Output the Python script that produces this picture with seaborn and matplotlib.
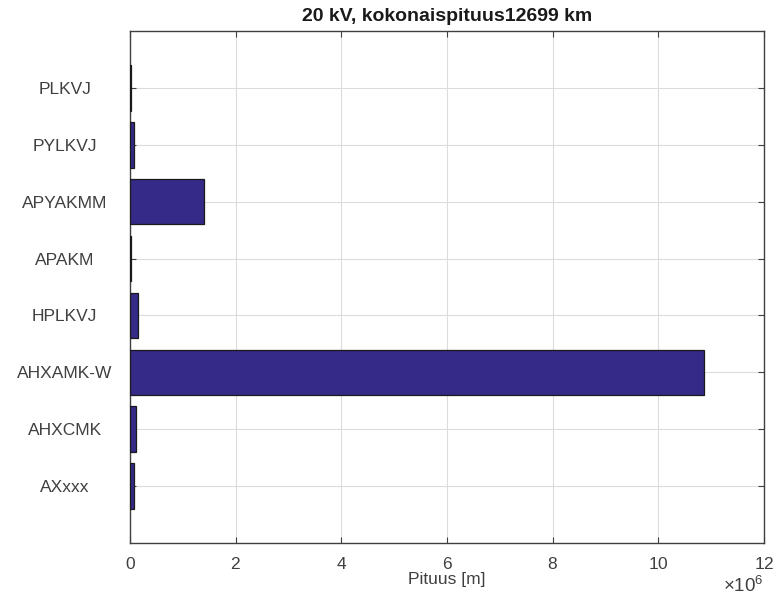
import matplotlib
matplotlib.use("Agg")
import matplotlib.pyplot as plt
import matplotlib.ticker as mticker
import seaborn as sns
import pandas as pd

# Cable types (top to bottom) and total length per type in metres
cable_types = ["PLKVJ", "PYLKVJ", "APYAKMM", "APAKM", "HPLKVJ", "AHXAMK-W", "AHXCMK", "AXxxx"]
lengths_m = [0.01e6, 0.07e6, 1.41e6, 0.01e6, 0.15e6, 10.86e6, 0.12e6, 0.08e6]
x_ticks = [0, 2e6, 4e6, 6e6, 8e6, 10e6, 12e6]

title_text = "20 kV, kokonaispituus12699 km"
x_label = "Pituus [m]"

df = pd.DataFrame({"tyyppi": cable_types, "pituus": lengths_m})

sns.set_theme(style="white")
plt.rcParams["font.family"] = ["Liberation Sans", "DejaVu Sans"]
plt.rcParams["mathtext.fontset"] = "custom"
plt.rcParams["mathtext.rm"] = "Liberation Sans"
plt.rcParams["mathtext.it"] = "Liberation Sans"

fig = plt.figure(figsize=(7.77, 6.02), dpi=100)
ax = fig.add_axes([130 / 777, 1 - 543 / 602, (764 - 130) / 777, (543 - 31) / 602])

sns.barplot(data=df, x="pituus", y="tyyppi", orient="h", order=cable_types,
            color="#352a87", saturation=1, width=0.8,
            edgecolor="#1a1a1a", linewidth=0.9, ax=ax, zorder=3)

ax.set_xlim(0, 12e6)
ax.set_ylim(len(cable_types), -1)
ax.set_xticks(x_ticks)

# metres shown in units of 10^6
fmt = mticker.ScalarFormatter(useMathText=True)
fmt.set_powerlimits((6, 6))
ax.xaxis.set_major_formatter(fmt)

tick_col = "#404040"
ax.grid(True, color="#dcdcdc", linewidth=0.8, zorder=0)
ax.set_axisbelow(True)
ax.tick_params(axis="both", direction="in", length=4, width=0.8, color="#404040",
               labelsize=12.5, labelcolor=tick_col, top=True, right=True,
               bottom=True, left=True)
ax.tick_params(axis="x", pad=9.5)
ax.tick_params(axis="y", pad=47)
for lbl in ax.get_yticklabels():
    lbl.set_horizontalalignment("center")
ax.xaxis.get_offset_text().set_fontsize(13.5)
ax.xaxis.get_offset_text().set_color(tick_col)

for s in ax.spines.values():
    s.set_color("#404040")
    s.set_linewidth(1.0)
    s.set_visible(True)

ax.set_xlabel(x_label, fontsize=12.5, color=tick_col, labelpad=0)
ax.set_ylabel("")
ax.set_title(title_text, fontsize=14, fontweight="bold", color="#1a1a1a", pad=7)

fig.savefig("out.png", dpi=100)
